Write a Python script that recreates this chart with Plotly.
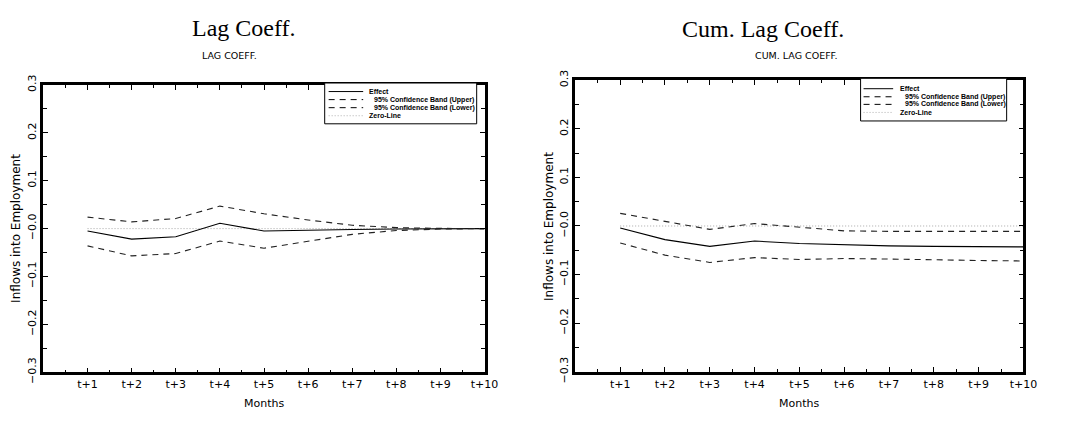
import plotly.graph_objects as go

# Horizon labels (months after the event)
months = [1, 2, 3, 4, 5, 6, 7, 8, 9, 10]
month_labels = ["t+1", "t+2", "t+3", "t+4", "t+5", "t+6", "t+7", "t+8", "t+9", "t+10"]

# Lag coefficients with 95% confidence bands
lag_effect = [-0.005, -0.022, -0.017, 0.011, -0.005, -0.003, -0.002, -0.001, 0.000, 0.000]
lag_upper = [0.024, 0.014, 0.021, 0.047, 0.031, 0.018, 0.007, 0.002, 0.0005, 0.000]
lag_lower = [-0.036, -0.057, -0.052, -0.026, -0.041, -0.027, -0.012, -0.004, -0.001, 0.000]

# Cumulative lag coefficients with 95% confidence bands
cum_effect = [-0.004, -0.028, -0.042, -0.031, -0.036, -0.039, -0.041, -0.042, -0.042, -0.043]
cum_upper = [0.026, 0.009, -0.007, 0.005, -0.002, -0.010, -0.011, -0.011, -0.011, -0.011]
cum_lower = [-0.035, -0.060, -0.075, -0.065, -0.069, -0.067, -0.068, -0.070, -0.071, -0.072]

zero_line = [0.0] * len(months)

y_ticks = [0.3, 0.2, 0.1, 0.0, -0.1, -0.2, -0.3]
y_tick_labels = ["0.3", "0.2", "0.1", "\u22120.0", "\u22120.1", "\u22120.2", "\u22120.3"]

W, H = 1070, 426
SANS = "DejaVu Sans, Verdana, sans-serif"
LEGEND_FONT = "Liberation Sans, Arial, sans-serif"
SERIF = "Liberation Serif, Times New Roman, serif"
DASH = "6px,5px"


def px(x):
    return x / W


def py(y):
    return 1 - y / H


fig = go.Figure()

panels = [
    ("x", "y", lag_effect, lag_upper, lag_lower),
    ("x2", "y2", cum_effect, cum_upper, cum_lower),
]
for xa, ya, eff, up, lo in panels:
    fig.add_trace(go.Scatter(x=months, y=zero_line, mode="lines", xaxis=xa, yaxis=ya,
                             line=dict(color="#a8a8a8", width=1, dash="1px,2px"),
                             name="Zero-Line", showlegend=False))
    fig.add_trace(go.Scatter(x=months, y=eff, mode="lines", xaxis=xa, yaxis=ya,
                             line=dict(color="black", width=1.1),
                             name="Effect", showlegend=False))
    fig.add_trace(go.Scatter(x=months, y=up, mode="lines", xaxis=xa, yaxis=ya,
                             line=dict(color="#222", width=1.1, dash=DASH),
                             name="95% Confidence Band (Upper)", showlegend=False))
    fig.add_trace(go.Scatter(x=months, y=lo, mode="lines", xaxis=xa, yaxis=ya,
                             line=dict(color="#222", width=1.1, dash=DASH),
                             name="95% Confidence Band (Lower)", showlegend=False))


def xaxis_style(domain):
    return dict(
        domain=domain, range=[0, 10], tickvals=months, ticktext=month_labels,
        ticks="inside", ticklen=5, tickwidth=1, tickcolor="black",
        showline=True, linewidth=2.5, linecolor="black", mirror="allticks",
        showgrid=False, zeroline=False,
        minor=dict(ticks="inside", ticklen=3, tickwidth=1, tickcolor="black",
                   dtick=0.5, tick0=0, showgrid=False),
        tickfont=dict(family=SANS, size=11, color="black"),
    )


def yaxis_style(domain, anchor):
    return dict(
        domain=domain, anchor=anchor, range=[-0.3, 0.3],
        tickvals=y_ticks, ticktext=y_tick_labels, tickangle=-90,
        ticks="inside", ticklen=5, tickwidth=1, tickcolor="black",
        showline=True, linewidth=2.5, linecolor="black", mirror="allticks",
        showgrid=False, zeroline=False,
        minor=dict(ticks="inside", ticklen=4, tickwidth=1, tickcolor="black",
                   dtick=0.05, tick0=0, showgrid=False),
        tickfont=dict(family=SANS, size=11, color="black"),
    )


left_x = [px(44), px(491)]
left_y = [py(382), py(79)]
right_x = [px(583), px(1037)]
right_y = [py(381.5), py(74)]

fig.update_layout(
    width=W, height=H,
    margin=dict(l=0, r=0, t=0, b=0),
    paper_bgcolor="white", plot_bgcolor="white",
    showlegend=False,
    xaxis=dict(xaxis_style(left_x), anchor="y"),
    yaxis=yaxis_style(left_y, "x"),
    xaxis2=dict(xaxis_style(right_x), anchor="y2"),
    yaxis2=yaxis_style(right_y, "x2"),
)

annotations = []
shapes = []


def text(x, y, s, size, family=SANS, angle=0, xanchor="center", weight=None):
    font = dict(family=family, size=size, color="black")
    if weight:
        font["weight"] = weight
    annotations.append(dict(x=px(x), y=py(y), xref="paper", yref="paper", text=s,
                            showarrow=False, xanchor=xanchor, yanchor="middle",
                            textangle=angle, font=font))


# Titles
text(247, 19, "Lag Coeff.", 24, SERIF)
text(773, 20, "Cum. Lag Coeff.", 24, SERIF)
text(233, 48, "LAG COEFF.", 9.5)
text(807, 48, "CUM. LAG COEFF.", 9.5)

# Axis titles
text(16, 230, "Inflows into Employment", 12, angle=-90)
text(557, 228, "Inflows into Employment", 12, angle=-90)
text(268, 415, "Months", 11)
text(810, 415, "Months", 11)


# Legend boxes
def legend(x0, x1, y0, y1, rows, sample_x0, sample_x1, text_x):
    shapes.append(dict(type="rect", xref="paper", yref="paper",
                       x0=px(x0), x1=px(x1), y0=py(y0), y1=py(y1),
                       line=dict(color="black", width=1), fillcolor="white", layer="above"))
    entries = [
        ("Effect", None, "black", 0),
        ("95% Confidence Band (Upper)", "dash", "black", 5),
        ("95% Confidence Band (Lower)", "dash", "black", 5),
        ("Zero-Line", "dot", "#b0b0b0", 0),
    ]
    for (label, dash, color, indent), ry in zip(entries, rows):
        ln = dict(color=color, width=1)
        if dash == "dash":
            ln["dash"] = "6px,5px"
        elif dash == "dot":
            ln["dash"] = "1px,2px"
        shapes.append(dict(type="line", xref="paper", yref="paper",
                           x0=px(sample_x0), x1=px(sample_x1), y0=py(ry), y1=py(ry),
                           line=ln, layer="above"))
        text(text_x + indent, ry, label, 7, family=LEGEND_FONT, xanchor="left", weight="bold")


legend(329, 483, 77, 120, [86, 94.5, 103, 111.5], 333, 368, 372)
legend(872, 1020, 72, 117, [83, 91.5, 99.5, 108], 875, 905, 910)

fig.update_layout(annotations=annotations, shapes=shapes)

fig.write_html("out.html")
